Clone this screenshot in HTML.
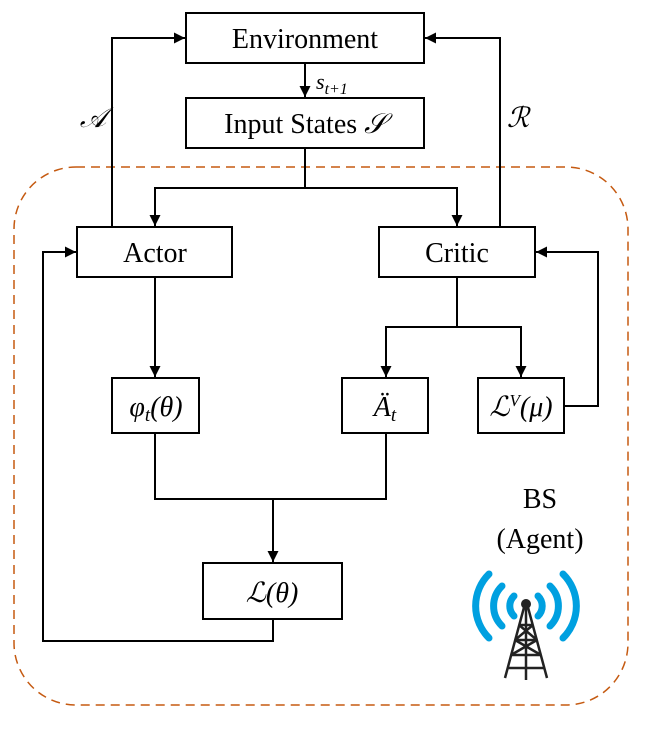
<!DOCTYPE html>
<html><head><meta charset="utf-8"><style>
body{margin:0;background:#fff}
text{font-family:"Liberation Serif",serif;fill:#000}
</style></head><body>
<svg width="650" height="725" viewBox="0 0 650 725" xmlns="http://www.w3.org/2000/svg">
<defs><marker id="a" markerWidth="12" markerHeight="12" refX="11" refY="5.5" orient="auto" markerUnits="userSpaceOnUse"><path d="M0,0 L11,5.5 L0,11 z" fill="#000"/></marker></defs>
<rect x="14" y="167" width="614" height="538" rx="62" fill="none" stroke="#c55a11" stroke-width="1.5" stroke-dasharray="9,6"/>
<g fill="#fff" stroke="#000" stroke-width="2">
<rect x="186" y="13" width="238" height="50"/>
<rect x="186" y="98" width="238" height="50"/>
<rect x="77" y="227" width="155" height="50"/>
<rect x="379" y="227" width="156" height="50"/>
<rect x="112" y="378" width="87" height="55"/>
<rect x="342" y="378" width="86" height="55"/>
<rect x="478" y="378" width="86" height="55"/>
<rect x="203" y="563" width="139" height="56"/>
</g>
<g fill="none" stroke="#000" stroke-width="2">
<path d="M112,227 V38 H185" marker-end="url(#a)"/>
<path d="M500,227 V38 H425" marker-end="url(#a)"/>
<path d="M305,63 V97" marker-end="url(#a)"/>
<path d="M305,148 V188"/>
<path d="M305,188 H155 V226" marker-end="url(#a)"/>
<path d="M305,188 H457 V226" marker-end="url(#a)"/>
<path d="M155,277 V377" marker-end="url(#a)"/>
<path d="M457,277 V327"/>
<path d="M457,327 H386 V377" marker-end="url(#a)"/>
<path d="M457,327 H521 V377" marker-end="url(#a)"/>
<path d="M564,406 H598 V252 H536" marker-end="url(#a)"/>
<path d="M155,433 V499 H386 V433"/>
<path d="M273,499 V562" marker-end="url(#a)"/>
<path d="M273,619 V641 H43 V252 H76" marker-end="url(#a)"/>
</g>
<g font-size="28" text-anchor="middle">
<text x="305" y="48">Environment</text>
<text x="305" y="133">Input States <tspan font-style="italic">𝒮</tspan></text>
<text x="155" y="262">Actor</text>
<text x="457" y="262">Critic</text>
<text x="156" y="416" font-style="italic">φ<tspan font-size="19" dy="5">t</tspan><tspan dy="-5">(θ)</tspan></text>
<text x="385" y="416" font-style="italic">Ä<tspan font-size="19" dy="5">t</tspan></text>
<text x="521" y="416" font-style="italic">ℒ<tspan font-size="17" dy="-10">V</tspan><tspan dy="10">(μ)</tspan></text>
<text x="272" y="602" font-style="italic">ℒ(θ)</text>
<text x="93" y="127" font-style="italic">𝒜</text>
<text x="518" y="127" font-style="italic">ℛ</text>
<text x="540" y="508">BS</text>
<text x="540" y="548">(Agent)</text>
</g>
<text x="316" y="89" font-size="22" font-style="italic">s<tspan font-size="16" dy="5">t+1</tspan></text>
<g fill="none" stroke="#00a0e0" stroke-width="7" stroke-linecap="round">
<path d="M514,596 A14,14 0 0 0 514,616"/><path d="M538,596 A14,14 0 0 1 538,616"/>
<path d="M502,586 A28,28 0 0 0 502,626"/><path d="M550,586 A28,28 0 0 1 550,626"/>
<path d="M489,574 A45,45 0 0 0 489,638"/><path d="M563,574 A45,45 0 0 1 563,638"/>
</g>
<g stroke="#222" stroke-width="2.5" fill="none">
<path d="M526,600 L505,678 M526,600 L547,678 M526,600 V680"/>
<path d="M519,625 H533 M515,640 H537 M511,655 H541 M508,668 H544"/>
<path d="M519,625 L537,640 M533,625 L515,640 M515,640 L541,655 M537,640 L511,655"/>
</g>
<circle cx="526" cy="604" r="5" fill="#222"/>
</svg>
</body></html>
